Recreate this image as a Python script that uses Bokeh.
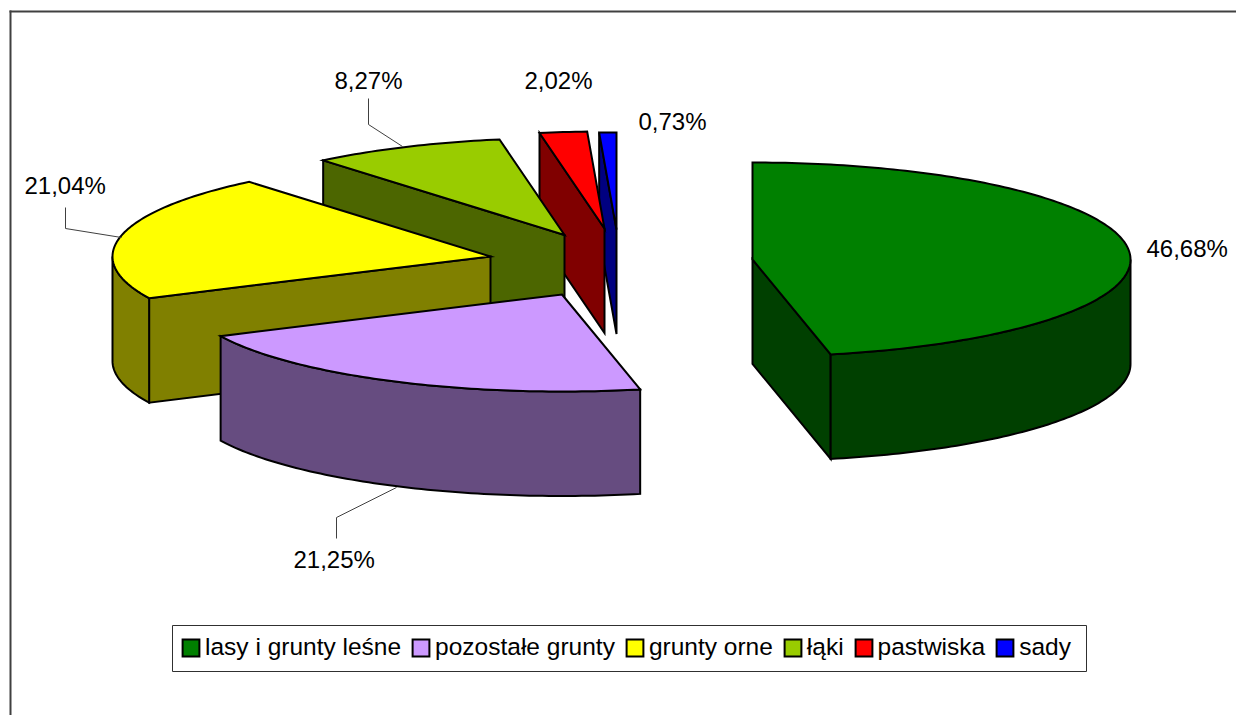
import math
from bokeh.core.properties import value
from bokeh.embed import file_html
from bokeh.models import Legend, LegendItem, Range1d
from bokeh.plotting import figure
from bokeh.resources import INLINE

categories = ["lasy i grunty leśne", "pozostałe grunty", "grunty orne", "łąki", "pastwiska", "sady"]
shares = [46.68, 21.25, 21.04, 8.27, 2.02, 0.73]
top_colors = ["#008000", "#CC99FF", "#FFFF00", "#99CC00", "#FF0000", "#0000FF"]
side_colors = ["#004000", "#664C80", "#808000", "#4C6600", "#800000", "#000080"]

# layout (page pixels)
apex_x = [752, 561.5, 490, 564, 604, 616]
apex_y = [259, 294, 256, 234.5, 228, 229]
label_x = [1146, 293, 24, 334, 524, 638]
label_y = [248, 559, 185, 80, 80, 121]
leaders = {
    1: ([336, 336, 396], [538, 517, 487]),
    2: ([65, 65, 121], [207, 228, 237]),
    3: ([368, 368, 402], [98, 124, 146]),
}
RX, RY, DEPTH = 378, 97, 104.5

p = figure(width=1236, height=715, output_backend="svg", toolbar_location=None,
           x_range=Range1d(0, 1236), y_range=Range1d(715, 0), min_border=0)
p.axis.visible = False
p.grid.visible = False
p.outline_line_color = None
p.background_fill_color = "white"

p.multi_line([[10, 10], [9, 1236]], [[10, 715], [11, 11]], line_color="#404040", line_width=2)


def arc_pts(cx, cy, a0, a1):
    n = max(2, int(abs(a1 - a0)) + 2)
    xs, ys = [], []
    for i in range(n):
        t = math.radians(a0 + (a1 - a0) * i / (n - 1))
        xs.append(cx + RX * math.sin(t))
        ys.append(cy - RY * math.cos(t))
    return xs, ys


def poly(xs, ys, fill):
    return p.patch(xs, ys, fill_color=fill, line_color="black", line_width=2, line_join="miter")


total = sum(shares)
starts, ends = [], []
acc = 0.0
for v in shares:
    starts.append(acc / total * 360)
    acc += v
    ends.append(acc / total * 360)

top_renderers = {}
for i in [0, 5, 4, 3, 2, 1]:
    cx, cy, s, e = apex_x[i], apex_y[i], starts[i], ends[i]
    # cut faces
    for ang, visible in ((s, math.sin(math.radians(s)) < -1e-9), (e, math.sin(math.radians(e)) > 1e-9)):
        if visible:
            px = cx + RX * math.sin(math.radians(ang))
            py = cy - RY * math.cos(math.radians(ang))
            poly([cx, px, px, cx], [cy, py, py + DEPTH, cy + DEPTH], side_colors[i])
    # outer wall
    w0, w1 = max(s, 90), min(e, 270)
    if w1 > w0:
        xs, ys = arc_pts(cx, cy, w0, w1)
        poly(xs + xs[::-1], ys + [y + DEPTH for y in ys[::-1]], side_colors[i])
    # top face
    xs, ys = arc_pts(cx, cy, s, e)
    top_renderers[i] = poly([cx] + xs, [cy] + ys, top_colors[i])

for k, (lx, ly) in leaders.items():
    p.line(lx, ly, line_color="#404040", line_width=1)

p.text(label_x, label_y, text=[f"{v:.2f}".replace(".", ",") + "%" for v in shares],
       text_font=value("Liberation Sans"), text_font_size=value("24px"),
       text_color="black", text_align="left", text_baseline="middle")

# legend frame
p.quad(left=[172], right=[1086], top=[625], bottom=[671], fill_color="white",
       line_color="#303030", line_width=1)

legend = Legend(
    items=[LegendItem(label=c, renderers=[top_renderers[i]]) for i, c in enumerate(categories)],
    orientation="horizontal", location=(180, 53), margin=0, padding=0, spacing=9,
    glyph_width=21, glyph_height=21, label_standoff=4, label_height=30,
    label_text_font="Liberation Sans", label_text_font_size="24.5px", label_text_color="black",
    border_line_color=None, background_fill_alpha=0.0,
)
p.add_layout(legend, "center")

open("out.html", "w").write(file_html(p, INLINE))
